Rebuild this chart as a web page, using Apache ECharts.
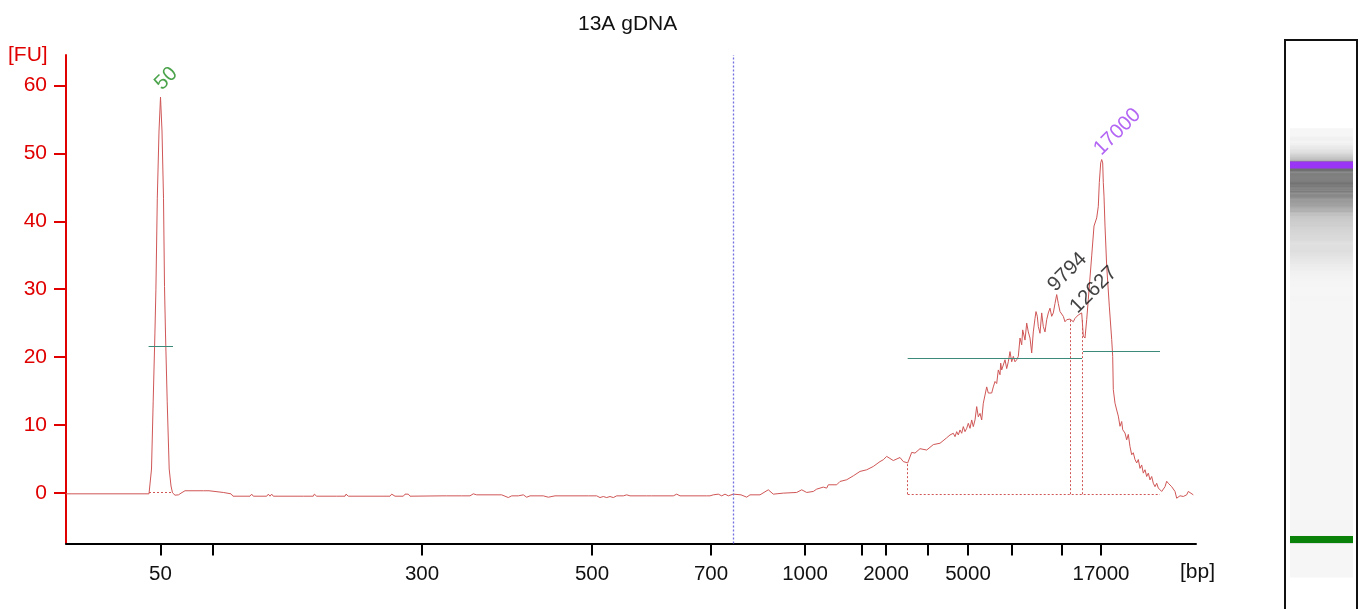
<!DOCTYPE html>
<html><head><meta charset="utf-8">
<script src="https://cdn.jsdelivr.net/npm/echarts@6/dist/echarts.min.js"></script>
<style>html,body{margin:0;padding:0;background:#fff}#c{width:1364px;height:609px}</style>
</head><body><div id="c"></div>
<script>
const chartTitle = '13A gDNA';
const xUnit = '[bp]';
const yUnit = '[FU]';

// electropherogram trace: [migration position, fluorescence FU]
const trace = [
[0,-0.15],[4.8,-0.15],[4.9,0.0],[5.0,-0.15],[6.1,-0.15],[6.2,0.1],[6.3,-0.15],[7.7,-0.15],[7.8,0.1],[7.9,-0.15],[8.3,-0.15],
[8.4,0.0],[8.55,3.5],[8.72,13.5],[8.89,23.4],[8.99,29.9],[9.13,43.4],[9.3,53.3],[9.45,58.3],[9.6,53.3],[9.75,43.4],[9.85,30.4],[9.95,23.4],[10.12,13.5],[10.32,3.5],[10.5,1.0],[10.65,0.0],[10.9,-0.35],[11.1,-0.1],[11.25,-0.3],[11.5,-0.05],[11.9,0.3],[13.4,0.3],[13.57,0.1],[13.75,0.3],[14.3,0.3],[14.5,0.05],[15.73,0.05],[15.9,-0.15],[16.5,-0.15],[16.7,-0.5],
[18.4,-0.5],[18.57,-0.2],[18.73,-0.5],[20.07,-0.5],[20.23,-0.2],[20.4,-0.5],[20.57,-0.2],[20.73,-0.5],[23.4,-0.5],[23.57,-0.3],[23.73,-0.5],[24.73,-0.5],[24.83,-0.2],[25.07,-0.5],[27.07,-0.5],[27.17,-0.3],[27.4,-0.5],[27.9,-0.5],[28.0,-0.2],[28.23,-0.5],[32.4,-0.5],[32.57,-0.2],[32.9,-0.5],[33.73,-0.5],[33.9,-0.2],[34.07,-0.44],[34.23,-0.2],[34.4,-0.5],
[37.7,-0.45],[37.9,-0.65],[38.07,-0.45],[39.3,-0.45],[39.4,-0.7],[39.57,-0.45],[40.4,-0.45],[40.73,-0.15],[41.07,-0.3],[43.57,-0.3],[43.73,-0.45],[44.23,-0.7],[44.57,-0.45],[45.23,-0.45],[45.4,-0.2],[45.73,-0.3],[46.07,-0.65],[46.4,-0.45],[47.73,-0.45],[47.9,-0.7],[48.23,-0.65],[48.9,-0.45],[52.23,-0.45],[52.4,-0.65],[53.07,-0.45],[53.4,-0.7],[53.73,-0.55],[54.07,-0.7],[54.4,-0.55],[54.73,-0.7],[55.07,-0.45],[55.73,-0.45],[56.07,-0.3],[56.4,-0.45],[58.07,-0.45],[58.23,-0.7],[58.57,-0.45],[60.73,-0.45],[61.07,-0.2],[61.4,-0.45],[64.07,-0.45],[64.23,-0.2],[64.4,-0.45],[64.73,-0.3],[64.9,-0.45],[65.23,-0.2],[65.57,-0.45],[65.9,-0.2],[66.23,-0.45],[66.73,-0.2],[67.5,-0.3],[68.07,-0.64],[68.4,-0.3],[69.4,-0.3],[69.57,-0.2],[70.23,0.44],[70.73,-0.2],[71.73,-0.05],[73.07,0.05],[73.57,0.44],[74.07,0.05],[74.73,0.2],[75.07,0.54],[75.73,0.84],[76.07,0.69],[76.23,1.18],[77.07,1.18],[77.4,1.67],[78.07,1.92],[78.73,2.5],[79.4,3.15],[80.07,3.39],[80.73,3.88],[81.4,4.6],[81.73,4.87],[82.07,5.36],[82.23,5.26],[82.73,4.75],[83.4,5.2],[83.73,4.6],[84.17,4.4],[84.57,5.95],[84.9,5.85],[85.4,6.5],[86.07,6.3],[86.73,7.1],[87.4,7.3],[88.07,8.1],
[88.4,8.52],[88.73,8.77],[88.9,8.27],[89.07,9.01],[89.23,8.52],[89.4,9.26],[89.57,8.77],[89.73,9.75],[89.9,9.01],[90.07,9.5],[90.23,10.24],[90.4,9.5],[90.57,10.73],[90.73,9.75],[90.9,10.73],[91.07,12.7],[91.23,11.2],[91.4,11.7],[91.57,10.73],[91.73,13.2],[91.9,14.4],[92.07,15.6],[92.23,14.7],[92.4,14.7],[92.57,14.7],[92.73,15.6],[92.9,16.4],[93.07,16.1],[93.23,18.1],[93.4,17.4],[93.47,19.1],[93.57,18.1],[93.73,18.3],[93.9,19.6],[94.07,18.3],[94.23,19.3],[94.4,20.8],[94.57,19.3],[94.73,20.1],[94.9,19.3],[95.07,19.6],[95.23,20.1],[95.4,22.8],[95.57,21.8],[95.67,24.0],[95.8,24.0],[95.9,22.5],[96.07,25.0],[96.23,23.7],[96.4,22.8],[96.57,20.6],[96.73,23.7],[96.9,25.7],[97.0,26.7],[97.13,26.0],[97.23,24.5],[97.4,23.5],[97.57,26.5],[97.73,24.5],[97.9,23.7],[98.07,25.5],[98.23,26.5],[98.4,27.2],[98.57,26.0],[98.73,26.5],[98.9,27.9],[99.07,29.2],[99.23,27.9],[99.4,26.7],[99.73,26.0],[99.9,25.2],[100.07,25.5],[100.4,25.6],[100.57,25.7],[100.73,25.2],[100.9,25.7],[101.07,25.5],[101.23,26.2],[101.4,26.0],[101.57,26.5],[101.73,23.1],[101.9,22.8],[102.07,25.5],[102.23,28.5],[102.57,34.9],[102.8,39.3],[103.07,40.5],[103.23,42.2],[103.33,45.7],[103.47,48.6],[103.57,49.1],[103.67,48.6],[103.73,45.7],[103.8,43.7],[103.9,39.3],[104.07,33.4],[104.33,27.5],[104.57,22.6],[104.67,20.1],[104.73,15.2],[104.9,13.2],[105.07,12.2],[105.23,11.3],[105.4,9.8],[105.57,10.5],[105.67,9.3],[105.9,8.8],[106.07,7.8],[106.23,8.6],[106.4,6.8],[106.57,5.6],[106.73,5.9],[106.9,4.9],[107.07,4.4],[107.23,4.9],[107.4,3.6],[107.57,4.1],[107.73,2.9],[107.9,3.4],[108.07,2.4],[108.23,2.9],[108.4,1.9],[108.57,2.4],[108.73,1.4],[108.9,0.9],[109.07,1.4],[109.23,0.7],[109.4,0.44],[109.57,0.2],[109.9,0.9],[110.07,1.7],[110.23,1.4],[110.4,1.4],[110.57,0.9],[110.73,0.9],[110.9,0.2],[111.07,-0.8],[111.23,-0.54],[111.4,-0.44],[111.73,-0.54],[112.07,-0.3],[112.23,0.2],[112.4,-0.05],[112.73,-0.3]
];

// x axis: ladder tick positions and their bp labels ('' = unlabeled tick)
const tickTimes  = [9.45, 14.7, 35.6, 52.6, 64.5, 73.9, 79.6, 82.0, 86.2, 90.2, 94.6, 99.6, 103.5];
const tickLabels = ['50', '', '300', '500', '700', '1000', '', '2000', '', '5000', '', '', '17000'];
const yTicks = [0, 10, 20, 30, 40, 50, 60];

// called peaks
const peakTimes  = [9.45, 99.07, 101.4, 103.57];
const peakFU     = [58.3, 29.2, 26.0, 49.1];
const peakLabels = ['50', '9794', '12627', '17000'];

// peak width (half height) lines
const widthStart = [8.26, 84.17, 101.7];
const widthEnd   = [10.7, 101.6, 109.4];
const widthFU    = [21.65, 19.8, 20.9];

// dotted baselines and region dividers
const baseStart = [8.3, 84.17];
const baseEnd   = [10.7, 109.4];
const baseFU    = [0.1, -0.2];
const dividerTimes = [84.17, 100.4, 101.67];
const dividerTopFU = [4.4, 25.6, 25.5];

const regionMarkerTime = 66.7;   // blue dotted marker
const ladderMarkers = ['50', '17000'];  // markers shown on the gel lane

// ---------- styles ----------
const FONT = 'Liberation Sans';
const RED = '#e00000';
const TRACE = '#d05656';
const TEAL = '#3b8a7a';
const peakStyle = {
  '50':    {color: '#1e8c1e', offset: [5, -3]},
  '9794':  {color: '#111',    offset: [2, 1]},
  '12627': {color: '#111',    offset: [1, 1]},
  '17000': {color: '#a040f0', offset: [3, 0]}
};
const markerColor = {'50': '#0a820a', '17000': '#9b35f5'};

const labelTimes = tickTimes.filter((t, i) => tickLabels[i] !== '');
function labelFor(v) {
  let best = 0, bd = Infinity;
  tickTimes.forEach((t, i) => { const d = Math.abs(t - v); if (d < bd) { bd = d; best = i; } });
  return tickLabels[best];
}

const peakData = peakTimes.map((t, i) => ({
  value: [t, peakFU[i]],
  label: {color: peakStyle[peakLabels[i]].color, position: peakStyle[peakLabels[i]].offset},
  name: peakLabels[i]
}));

const widthLines = widthStart.map((s, i) => ({coords: [[s, widthFU[i]], [widthEnd[i], widthFU[i]]]}));
const dottedLines = baseStart.map((s, i) => ({coords: [[s, baseFU[i]], [baseEnd[i], baseFU[i]]]}))
  .concat(dividerTimes.map((t, i) => ({coords: [[t, -0.2], [t, dividerTopFU[i]]]})));

// gel lane built from the trace segments
const gelData = [];
for (let i = 0; i < trace.length - 1; i++) {
  const f = (Math.max(trace[i][1], 0) + Math.max(trace[i + 1][1], 0)) / 2;
  gelData.push([trace[i][0], trace[i + 1][0], f]);
}
const markerData = ladderMarkers.map(l => [peakTimes[peakLabels.indexOf(l)], l]);
function gray(f) {
  const g = Math.round(Math.max(110, 246 - 4.6 * f));
  return 'rgb(' + g + ',' + g + ',' + g + ')';
}

const chart = echarts.init(document.getElementById('c'), null, {renderer: 'canvas'});
chart.setOption({
  animation: false,
  backgroundColor: '#fff',
  title: {text: chartTitle, left: 573, top: 9,
    textStyle: {fontFamily: FONT, fontSize: 21, fontWeight: 'normal', color: '#111'}},
  grid: [
    {left: 66, right: 168, top: 55, bottom: 65.5, outerBoundsMode: 'none'},
    {left: 1285, top: 40, width: 72, height: 600, outerBoundsMode: 'none', show: true, borderColor: '#111', borderWidth: 2, backgroundColor: '#fff'}
  ],
  xAxis: [
    {type: 'value', gridIndex: 0, min: 0, max: 113,
      axisLine: {onZero: false, lineStyle: {color: '#000', width: 2}},
      axisTick: {show: true, customValues: tickTimes, length: 12, lineStyle: {color: '#000', width: 2}},
      axisLabel: {customValues: labelTimes, formatter: v => labelFor(v), margin: 20, color: '#111', fontSize: 20.5, fontFamily: FONT},
      splitLine: {show: false}},
    {type: 'value', gridIndex: 1, min: 0, max: 72, show: false}
  ],
  yAxis: [
    {type: 'value', gridIndex: 0, min: -7.47, max: 64.5,
      axisLine: {show: true, onZero: false, lineStyle: {color: RED, width: 2}},
      axisTick: {show: true, customValues: yTicks, length: 12, lineStyle: {color: RED, width: 2}},
      axisLabel: {customValues: yTicks, color: RED, fontSize: 21, fontFamily: FONT, margin: 19},
      splitLine: {show: false}},
    {type: 'value', gridIndex: 1, min: -15.8, max: 135, show: false}
  ],
  graphic: [
    {type: 'text', left: 8, top: 45, style: {text: yUnit, fill: RED, font: '21px "Liberation Sans"'}},
    {type: 'text', left: 1180, top: 562, style: {text: xUnit, fill: '#111', font: '21px "Liberation Sans"'}}
  ],
  series: [
    {type: 'line', xAxisIndex: 0, yAxisIndex: 0, data: trace, showSymbol: false, symbol: 'none',
      lineStyle: {color: TRACE, width: 1}, silent: true, z: 3,
      markLine: {silent: true, symbol: 'none', label: {show: false},
        lineStyle: {color: '#7070e0', type: [2, 2], width: 1.3},
        data: [{xAxis: regionMarkerTime}]}},
    {type: 'lines', coordinateSystem: 'cartesian2d', xAxisIndex: 0, yAxisIndex: 0, data: dottedLines,
      lineStyle: {color: TRACE, width: 1, type: [2, 2], opacity: 1}, silent: true, z: 2},
    {type: 'lines', coordinateSystem: 'cartesian2d', xAxisIndex: 0, yAxisIndex: 0, data: widthLines,
      lineStyle: {color: TEAL, width: 1, opacity: 1}, silent: true, z: 4},
    {type: 'scatter', xAxisIndex: 0, yAxisIndex: 0, data: peakData, symbolSize: 0, silent: true, z: 5,
      label: {show: true, formatter: p => p.name, rotate: 45, align: 'left', verticalAlign: 'bottom',
        fontSize: 20.5, fontFamily: FONT}},
    {type: 'custom', xAxisIndex: 1, yAxisIndex: 1, data: gelData, silent: true, clip: false,
      renderItem: (params, api) => {
        const p0 = api.coord([5, api.value(0)]);
        const p1 = api.coord([68, api.value(1)]);
        return {type: 'rect', shape: {x: p0[0], y: p1[1] - 0.4, width: p1[0] - p0[0], height: p0[1] - p1[1] + 0.8},
          style: {fill: gray(api.value(2))}};
      }},
    {type: 'custom', xAxisIndex: 1, yAxisIndex: 1, data: markerData, silent: true, z: 3,
      renderItem: (params, api) => {
        const p0 = api.coord([5, api.value(0)]);
        const p1 = api.coord([68, api.value(0)]);
        return {type: 'rect', shape: {x: p0[0], y: p0[1] - 3.5, width: p1[0] - p0[0], height: 7},
          style: {fill: markerColor[markerData[params.dataIndex][1]]}};
      }}
  ]
});
</script></body></html>
